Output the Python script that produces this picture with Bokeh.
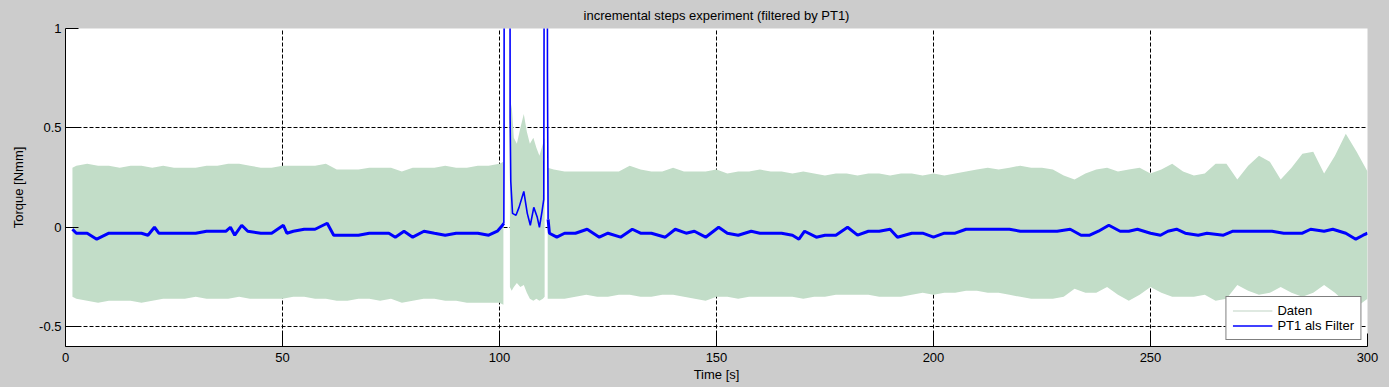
import math
from bokeh.plotting import figure
from bokeh.models import FixedTicker, Legend, LegendItem, Range1d
from bokeh.embed import file_html
from bokeh.resources import INLINE

# ---------------- texts ----------------
title_text = "incremental steps experiment (filtered by PT1)"
x_label = "Time [s]"
y_label = "Torque [Nmm]"
series_names = ["Daten", "PT1 als Filter"]
x_ticks = [0, 50, 100, 150, 200, 250, 300]
x_tick_labels = ["0", "50", "100", "150", "200", "250", "300"]
y_ticks = [-0.5, 0, 0.5, 1]
y_tick_labels = ["-0.5", "0", "0.5", "1"]

# ---------------- "Daten" (raw signal), read as upper / lower envelope ----------------
# segment before the step (t < 101 s)
daten_t_a = [1.6, 2.5, 5, 7.5, 10, 12.5, 15, 17.5, 20, 22.5, 25, 27.5, 30, 32.5, 35, 37.5,
             40, 42.5, 45, 47.5, 50, 52.5, 55, 57.5, 60, 62.5, 65, 67.5, 70, 72.5, 75, 77.5,
             80, 82.5, 85, 87.5, 90, 92.5, 95, 97.5, 100, 100.9]
daten_hi_a = [0.30, 0.31, 0.32, 0.31, 0.31, 0.30, 0.31, 0.31, 0.30, 0.31, 0.30, 0.30, 0.30, 0.31,
              0.31, 0.32, 0.32, 0.31, 0.30, 0.30, 0.31, 0.31, 0.31, 0.31, 0.32, 0.29, 0.29, 0.29,
              0.30, 0.30, 0.30, 0.28, 0.30, 0.30, 0.30, 0.31, 0.30, 0.30, 0.31, 0.31, 0.32, 0.33]
daten_lo_a = [-0.35, -0.36, -0.37, -0.38, -0.37, -0.37, -0.37, -0.38, -0.37, -0.36, -0.36, -0.36,
              -0.35, -0.36, -0.36, -0.36, -0.35, -0.36, -0.36, -0.36, -0.36, -0.35, -0.35, -0.36,
              -0.36, -0.37, -0.37, -0.36, -0.36, -0.37, -0.36, -0.38, -0.37, -0.36, -0.36, -0.37,
              -0.37, -0.38, -0.38, -0.38, -0.38, -0.39]
# segment during the step (102.4 .. 110.4 s)
daten_t_b = [102.4, 102.8, 103.3, 104.0, 104.8, 105.6, 106.3, 107.0, 107.8, 108.5, 109.2, 110.0, 110.4]
daten_hi_b = [0.55, 0.62, 0.45, 0.42, 0.50, 0.57, 0.48, 0.42, 0.45, 0.40, 0.36, 0.42, 0.45]
daten_lo_b = [-0.30, -0.32, -0.30, -0.28, -0.30, -0.29, -0.33, -0.36, -0.37, -0.36, -0.37, -0.36, -0.35]
# segment after the step (t > 111 s)
daten_t_c = [111.1, 112.5, 115, 117.5, 120, 122.5, 125, 127.5, 130, 132.5,
             135, 137.5, 140, 142.5, 145, 147.5, 150, 152.5, 155, 157.5,
             160, 162.5, 165, 167.5, 170, 172.5, 175, 177.5, 180, 182.5,
             185, 187.5, 190, 192.5, 195, 197.5, 200, 202.5, 205, 207.5,
             210, 212.5, 215, 217.5, 220, 222.5, 225, 227.5, 230, 232.5,
             235, 237.5, 240, 242.5, 245, 247.5, 250, 252.5, 255, 257.5,
             260, 262.5, 265, 267.5, 270, 272.5, 275, 277.5, 280, 282.5,
             285, 287.5, 290, 292.5, 295, 297.5, 300]
daten_hi_c = [0.30, 0.29, 0.28, 0.28, 0.28, 0.28, 0.28, 0.28, 0.31, 0.29,
              0.28, 0.28, 0.30, 0.28, 0.28, 0.28, 0.29, 0.27, 0.28, 0.28,
              0.29, 0.28, 0.28, 0.27, 0.28, 0.27, 0.26, 0.27, 0.27, 0.26,
              0.27, 0.27, 0.26, 0.27, 0.27, 0.26, 0.27, 0.26, 0.27, 0.28,
              0.29, 0.30, 0.29, 0.30, 0.31, 0.30, 0.30, 0.29, 0.26, 0.24,
              0.27, 0.29, 0.30, 0.28, 0.29, 0.30, 0.27, 0.29, 0.32, 0.28,
              0.26, 0.27, 0.32, 0.32, 0.24, 0.31, 0.36, 0.33, 0.24, 0.30,
              0.37, 0.38, 0.27, 0.36, 0.47, 0.38, 0.28]
daten_lo_c = [-0.36, -0.36, -0.36, -0.35, -0.34, -0.35, -0.35, -0.34, -0.34, -0.35,
              -0.35, -0.34, -0.34, -0.35, -0.36, -0.37, -0.35, -0.35, -0.36, -0.35,
              -0.35, -0.35, -0.35, -0.35, -0.36, -0.35, -0.35, -0.34, -0.34, -0.34,
              -0.34, -0.35, -0.35, -0.35, -0.34, -0.33, -0.34, -0.33, -0.33, -0.32,
              -0.32, -0.33, -0.33, -0.34, -0.35, -0.36, -0.36, -0.36, -0.35, -0.31,
              -0.33, -0.33, -0.30, -0.34, -0.37, -0.34, -0.30, -0.33, -0.35, -0.35,
              -0.35, -0.34, -0.37, -0.36, -0.29, -0.32, -0.34, -0.33, -0.30, -0.33,
              -0.35, -0.33, -0.29, -0.33, -0.38, -0.40, -0.36]

# ---------------- "PT1 als Filter" (filtered signal) ----------------
pt1_t = [1.6, 2.5, 5, 7.2, 10, 12.5, 15, 17.5, 19, 20.5, 21.5, 25, 27.5, 30, 32.5, 35, 37, 38, 39,
         40.6, 42, 45, 47.5, 50.2, 51, 52.5, 55, 57.5, 60.3, 61.8, 65, 67.5, 70, 72.5, 74.5, 76,
         78, 80, 82.6, 85, 87.5, 90, 92.5, 95, 97.5, 99.5, 100.7, 101.0, 101.05, 101.1, 102.4,
         102.45, 102.6, 103.0, 103.8, 104.5, 105.6, 106.4, 107.1, 107.9, 108.7, 109.2, 109.8,
         110.2, 110.35, 111.0, 111.05, 111.2, 111.5, 113.2, 115, 117.5, 120.2, 123, 125, 127.9,
         130.6, 132.5, 135, 138.2, 140.5, 143, 144.9, 147.5, 150.5, 152.5, 155, 158, 160, 162.5,
         165, 167.5, 169, 170.3, 173, 175, 177.5, 180.2, 182.5, 185, 187.5, 190, 191.7, 195,
         197.5, 200, 202.5, 205, 207.5, 210, 212.5, 215, 217.5, 220, 222.5, 225, 228.5, 231.5,
         234, 236, 238, 240.4, 243, 245, 247, 250, 252.3, 254, 256, 258, 261, 263, 266.8, 269,
         272.5, 276, 278, 280.7, 283, 285, 286.9, 290, 292, 295, 297.3, 299, 300]
pt1_v = [-0.01, -0.03, -0.03, -0.06, -0.03, -0.03, -0.03, -0.03, -0.04, 0.00, -0.03, -0.03, -0.03,
         -0.03, -0.02, -0.02, -0.02, 0.00, -0.04, 0.01, -0.02, -0.03, -0.03, 0.01, -0.03, -0.02,
         -0.01, -0.01, 0.02, -0.04, -0.04, -0.04, -0.03, -0.03, -0.03, -0.05, -0.02, -0.05, -0.02,
         -0.03, -0.04, -0.03, -0.03, -0.03, -0.04, -0.02, 0.01, 0.02, 0.45, 2.0, 2.0,
         0.55, 0.23, 0.07, 0.06, 0.10, 0.18, 0.07, 0.01, 0.10, 0.05, 0.00, 0.08,
         0.14, 2.0, 2.0, 0.78, 0.04, -0.03, -0.05, -0.03, -0.03, -0.01, -0.05, -0.03, -0.05,
         -0.01, -0.03, -0.03, -0.05, -0.01, -0.03, -0.02, -0.05, 0.00, -0.03, -0.04, -0.02, -0.03, -0.03,
         -0.03, -0.04, -0.06, -0.02, -0.05, -0.04, -0.04, 0.00, -0.04, -0.02, -0.02, -0.01, -0.05, -0.03,
         -0.03, -0.05, -0.03, -0.03, -0.01, -0.01, -0.01, -0.01, -0.01, -0.02, -0.02, -0.02, -0.02, -0.01,
         -0.04, -0.04, -0.02, 0.01, -0.02, -0.02, -0.01, -0.03, -0.04, -0.02, -0.01, -0.03, -0.04, -0.03, -0.04, -0.02,
         -0.02, -0.02, -0.02, -0.03, -0.03, -0.03, -0.01, -0.02, -0.01, -0.03, -0.06, -0.04, -0.03]

assert len(daten_t_a) == len(daten_hi_a) == len(daten_lo_a)
assert len(daten_t_b) == len(daten_hi_b) == len(daten_lo_b)
assert len(daten_t_c) == len(daten_hi_c) == len(daten_lo_c)
assert len(pt1_t) == len(pt1_v), (len(pt1_t), len(pt1_v))

# ---------------- styles ----------------
FONT = "Liberation Sans"
GREEN = "#c2ddc8"
BLUE = "#0000ff"
GRAY = "#cccccc"

p = figure(width=1389, height=387, output_backend="svg", toolbar_location=None,
           x_range=Range1d(0, 300), y_range=Range1d(-0.6, 1),
           min_border_left=65, min_border_right=22, min_border_top=27, min_border_bottom=41,
           background_fill_color="white", border_fill_color=GRAY, outline_line_color=None,
           title=title_text)

p.title.text_font = FONT
p.title.text_font_size = "13px"
p.title.text_font_style = "normal"
p.title.text_color = "black"
p.title.align = "center"
p.title.standoff = 11

for seg_t, seg_hi, seg_lo in ((daten_t_a, daten_hi_a, daten_lo_a),
                              (daten_t_b, daten_hi_b, daten_lo_b),
                              (daten_t_c, daten_hi_c, daten_lo_c)):
    p.varea(x=seg_t, y1=seg_lo, y2=seg_hi, fill_color=GREEN, fill_alpha=1.0)

# the noisy steady parts look thick, the transient around the step is a thin trace
i0 = next(i for i, t in enumerate(pt1_t) if t >= 101.0)
i1 = next(i for i, t in enumerate(pt1_t) if t >= 111.2)
p.line(x=pt1_t[:i0 + 1], y=pt1_v[:i0 + 1], line_color=BLUE, line_width=3)
p.line(x=pt1_t[i0:i1 + 1], y=pt1_v[i0:i1 + 1], line_color=BLUE, line_width=1.6)
p.line(x=pt1_t[i1:], y=pt1_v[i1:], line_color=BLUE, line_width=3)

# legend proxies
leg_d = p.line(x=[math.nan], y=[math.nan], line_color="#c0d4c4", line_width=1.2)
leg_b = p.line(x=[math.nan], y=[math.nan], line_color=BLUE, line_width=1.5)

legend = Legend(items=[LegendItem(label=series_names[0], renderers=[leg_d]),
                       LegendItem(label=series_names[1], renderers=[leg_b])],
                location="bottom_right", margin=6, padding=6, spacing=0,
                glyph_width=40, glyph_height=15, label_height=15, label_standoff=5,
                label_text_font=FONT, label_text_font_size="13px", label_text_color="black",
                border_line_color="black", border_line_width=1,
                background_fill_color="white", background_fill_alpha=1.0)
p.add_layout(legend)

# axes
p.xaxis.ticker = FixedTicker(ticks=x_ticks)
p.xaxis.major_label_overrides = dict(zip(x_ticks, x_tick_labels))
p.yaxis.ticker = FixedTicker(ticks=y_ticks)
p.yaxis.major_label_overrides = dict(zip(y_ticks, y_tick_labels))
p.xaxis.axis_label = x_label
p.yaxis.axis_label = y_label
for ax in (p.xaxis, p.yaxis):
    ax.axis_line_color = "black"
    ax.axis_line_width = 1
    ax.major_tick_in = 13
    ax.major_tick_out = 0
    ax.major_tick_line_color = "black"
    ax.minor_tick_in = 0
    ax.minor_tick_out = 0
    ax.major_label_text_font = FONT
    ax.major_label_text_font_size = "13px"
    ax.major_label_text_color = "black"
    ax.axis_label_text_font = FONT
    ax.axis_label_text_font_size = "13px"
    ax.axis_label_text_font_style = "normal"
    ax.axis_label_text_color = "black"
p.xaxis.major_label_standoff = 6
p.xaxis.axis_label_standoff = 2
p.yaxis.major_label_standoff = 4
p.yaxis.axis_label_standoff = 10

# grid
p.xgrid.ticker = FixedTicker(ticks=x_ticks)
p.ygrid.ticker = FixedTicker(ticks=y_ticks)
for g in (p.xgrid, p.ygrid):
    g.grid_line_color = "black"
    g.grid_line_dash = "4 2"
    g.grid_line_width = 1
    g.grid_line_alpha = 1.0

html = file_html(p, INLINE, title="incremental steps experiment")
html = html.replace("<head>", "<head><style>html,body{margin:0;padding:0;background:#cccccc;overflow:hidden}</style>", 1)
open("out.html", "w").write(html)
